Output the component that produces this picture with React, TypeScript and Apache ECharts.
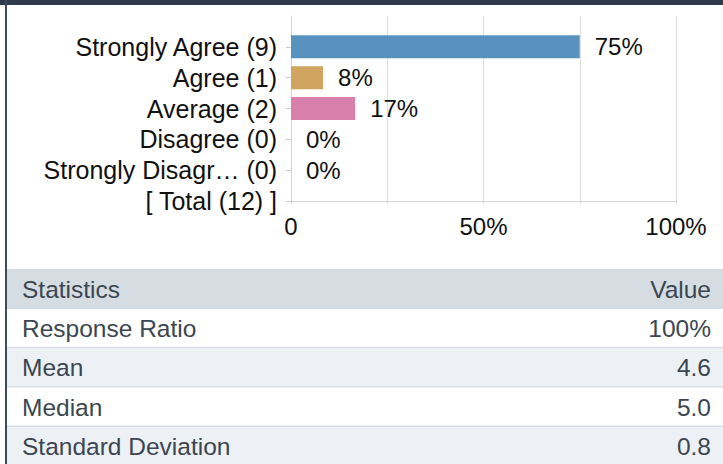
import React, { useEffect, useRef } from "react";
import * as echarts from "echarts";

const categories = ["Strongly Agree", "Agree", "Average", "Disagree", "Strongly Disagr…"];
const counts = [9, 1, 2, 0, 0];
const totalCount = 12;
const percents = [75, 8.33, 16.67, 0, 0];
const barColors = ["#5892bf", "#cfa560", "#d97fab", "#999999", "#999999"];

const xTickValues = [0, 50, 100];
const xTickLabels = ["0", "50%", "100%"];

const statHeader = ["Statistics", "Value"];
const statNames = ["Response Ratio", "Mean", "Median", "Standard Deviation"];
const statValues = ["100%", "4.6", "5.0", "0.8"];

const FONT = '"Liberation Sans", Arial, Helvetica, sans-serif';

export default function App() {
  const ref = useRef<HTMLDivElement>(null);

  useEffect(() => {
    if (!ref.current) return;
    const chart = echarts.init(ref.current, undefined, { renderer: "svg" });

    const yData = [
      "",
      ...categories.map((c, i) => `${c} (${counts[i]})`),
      `[ Total (${totalCount}) ]`,
    ];
    const seriesData: any[] = [
      "-",
      ...percents.map((p, i) => ({ value: p, itemStyle: { color: barColors[i] } })),
      "-",
    ];

    // table graphics
    const tableX = 7;
    const tableW = 723 - tableX;
    const headerTop = 269;
    const headerH = 40;
    const rowPitch = 39.3;
    const textLeft = 22;
    const textRight = 711;
    const textColor = "#3b4651";
    const mkText = (text: string, x: number, y: number, align: string) => ({
      type: "text",
      x,
      y,
      style: {
        text,
        fill: textColor,
        fontSize: 24.5,
        fontFamily: FONT,
        align,
        textAlign: align,
        verticalAlign: "middle",
        textVerticalAlign: "middle",
      },
    });

    const graphics: any[] = [
      { type: "rect", shape: { x: 0, y: 0, width: 723, height: 5 }, style: { fill: "#2f3b4b" } },
      { type: "rect", shape: { x: 5, y: 0, width: 2, height: 464 }, style: { fill: "#3e4a5b" } },
      {
        type: "rect",
        shape: { x: tableX, y: headerTop, width: tableW, height: headerH },
        style: { fill: "#d6dde2" },
      },
      mkText(statHeader[0], textLeft, headerTop + headerH / 2, "left"),
      mkText(statHeader[1], textRight, headerTop + headerH / 2, "right"),
    ];
    statNames.forEach((name, i) => {
      const top = headerTop + headerH + i * rowPitch;
      graphics.push({
        type: "rect",
        shape: { x: tableX, y: top, width: tableW, height: rowPitch },
        style: { fill: i % 2 === 0 ? "#ffffff" : "#edf1f5" },
      });
      if (i < statNames.length - 1) {
        graphics.push({
          type: "rect",
          shape: { x: tableX, y: top + rowPitch - 1.5, width: tableW, height: 2 },
          style: { fill: "#d9dfe5" },
        });
      }
      graphics.push(mkText(name, textLeft, top + rowPitch / 2, "left"));
      graphics.push(mkText(statValues[i], textRight, top + rowPitch / 2, "right"));
    });

    chart.setOption({
      animation: false,
      backgroundColor: "#ffffff",
      grid: {
        left: 291,
        top: 16,
        width: 385,
        height: 185,
        containLabel: false,
        outerBoundsMode: "none",
      },
      xAxis: {
        type: "value",
        min: 0,
        max: 100,
        interval: 25,
        axisLine: { show: true, lineStyle: { color: "#d4d4d4", width: 1 } },
        axisTick: { show: true, length: 3, lineStyle: { color: "#d4d4d4" } },
        splitLine: { show: true, lineStyle: { color: "#dedede", width: 1 } },
        axisLabel: {
          margin: 13,
          fontSize: 24,
          fontFamily: FONT,
          color: "#111111",
          formatter: (v: number) => {
            const idx = xTickValues.indexOf(v);
            return idx >= 0 ? xTickLabels[idx] : "";
          },
        },
      },
      yAxis: {
        type: "category",
        inverse: true,
        boundaryGap: false,
        data: yData,
        axisLine: { show: true, lineStyle: { color: "#d4d4d4", width: 1 } },
        axisTick: {
          show: true,
          length: 5,
          lineStyle: { color: "#cccccc" },
          interval: (index: number) => index !== 0,
        },
        splitLine: { show: false },
        axisLabel: {
          margin: 14,
          fontSize: 25,
          fontFamily: FONT,
          color: "#111111",
          interval: 0,
        },
      },
      series: [
        {
          type: "bar",
          data: seriesData,
          barWidth: 23,
          label: {
            show: true,
            position: "right",
            distance: 15,
            fontSize: 24,
            fontFamily: FONT,
            color: "#111111",
            formatter: (p: any) => `${Math.round(p.value)}%`,
          },
        },
      ],
      graphic: graphics,
    });

    return () => chart.dispose();
  }, []);

  return (
    <div
      ref={ref}
      style={{ position: "fixed", left: 0, top: 0, width: 723, height: 464 }}
    />
  );
}
